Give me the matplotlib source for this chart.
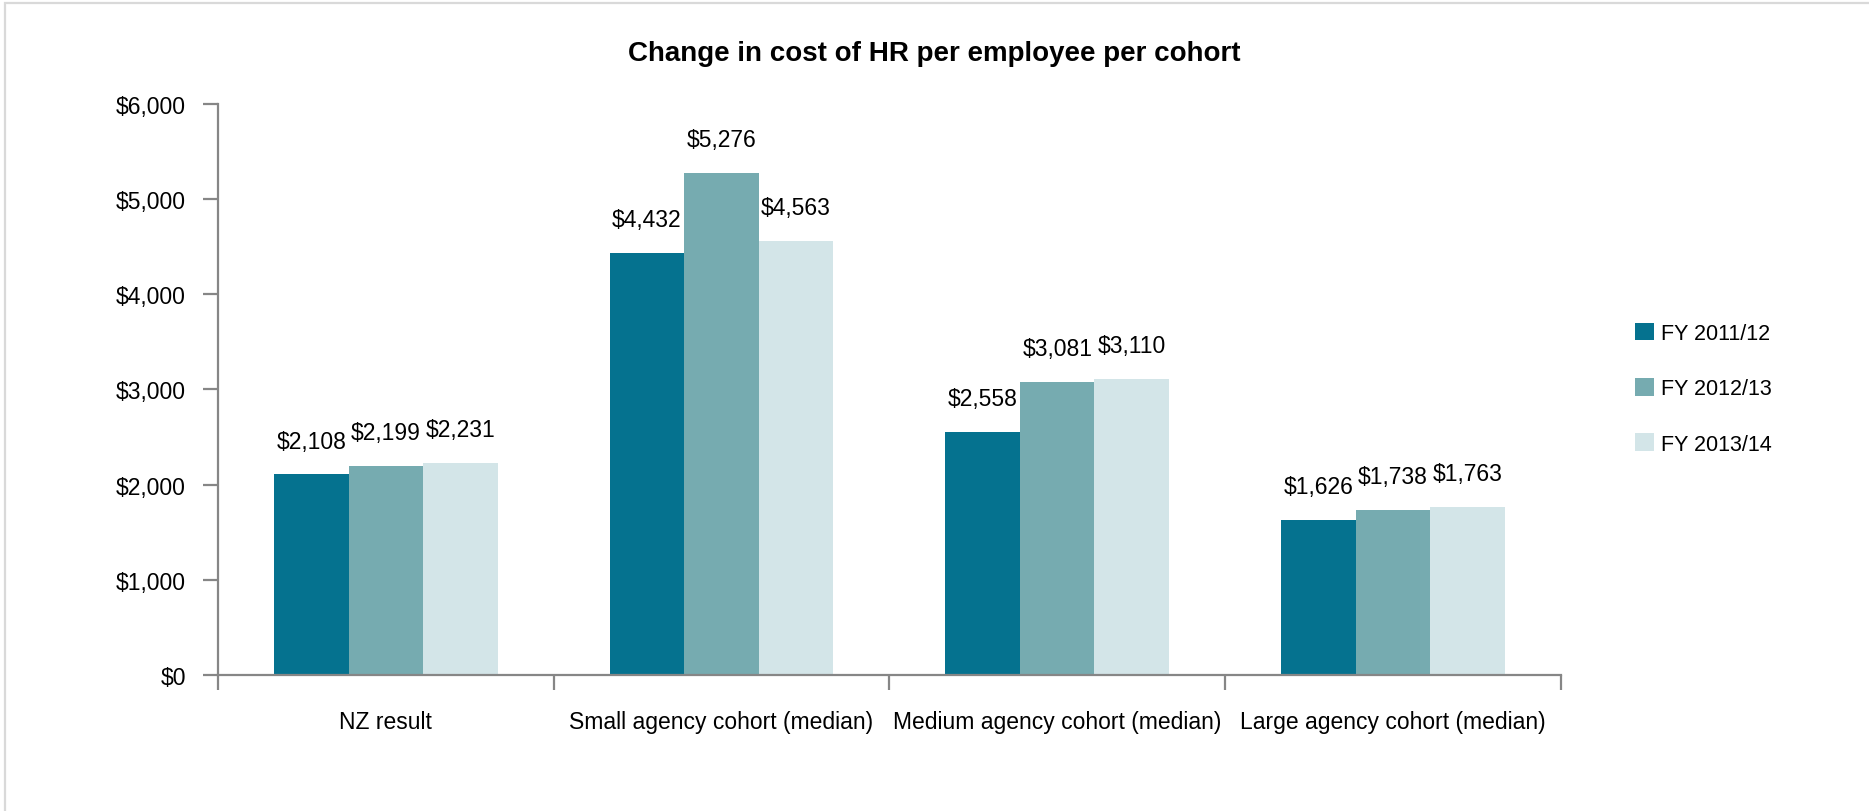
import numpy as np
import matplotlib.pyplot as plt
from matplotlib.patches import Rectangle
from matplotlib.ticker import FuncFormatter

plt.rcParams['font.family'] = ['Liberation Sans', 'DejaVu Sans']

# HR cost per employee by cohort and financial year
cohorts = ['NZ result', 'Small agency cohort (median)',
           'Medium agency cohort (median)', 'Large agency cohort (median)']
years = ['FY 2011/12', 'FY 2012/13', 'FY 2013/14']
fy1112 = [2108, 4432, 2558, 1626]
fy1213 = [2199, 5276, 3081, 1738]
fy1314 = [2231, 4563, 3110, 1763]
colors = ['#05728f', '#76abb0', '#d3e5e8']

fig = plt.figure(figsize=(18.69, 8.12), dpi=100)
ax = fig.add_axes([0.1166, 0.1675, 0.7185, 0.7032])

# light frame round the whole figure
fig.patches.append(Rectangle((5 / 1869, -0.1), 1.2, (812 - 4) / 812 + 0.1,
                             transform=fig.transFigure, fill=False,
                             edgecolor='#d9d9d9', linewidth=1.6))

x = np.arange(len(cohorts))
w = 0.222
for i, (vals, lab, c) in enumerate(zip([fy1112, fy1213, fy1314], years, colors)):
    pos = x + (i - 1) * w
    ax.bar(pos, vals, width=w, color=c, label=lab, zorder=2)
    for px, v in zip(pos, vals):
        ax.annotate(f'${v:,}', (px, v), xytext=(0, 24), textcoords='offset points',
                    ha='center', va='center', fontsize=16.5, color='black')

ax.set_xlim(-0.5, len(cohorts) - 0.5)
ax.set_ylim(0, 6000)
ax.set_yticks(np.arange(0, 6001, 1000))
ax.yaxis.set_major_formatter(FuncFormatter(lambda v, p: f'${v:,.0f}'))

# category labels at centres, tick marks at group boundaries
ax.set_xticks(x)
ax.set_xticklabels(cohorts)
ax.tick_params(axis='x', length=0, pad=25, labelsize=16.5)
ax.set_xticks(np.arange(-0.5, len(cohorts)), minor=True)
ax.tick_params(axis='x', which='minor', length=11, width=1.6, color='#868686')
ax.tick_params(axis='y', length=11, width=1.6, color='#868686', labelsize=16.5, pad=12)

for s in ['top', 'right']:
    ax.spines[s].set_visible(False)
for s in ['left', 'bottom']:
    ax.spines[s].set_color('#868686')
    ax.spines[s].set_linewidth(1.6)

fig.text(0.5, 0.933, 'Change in cost of HR per employee per cohort',
         ha='center', va='center', fontsize=20, fontweight='bold')

ax.legend(loc='center left', bbox_to_anchor=(1635 / 1869, 0.520),
          bbox_transform=fig.transFigure, frameon=False,
          fontsize=15.5, handlelength=0.88, handleheight=0.88, handletextpad=0.33,
          labelspacing=1.58, borderaxespad=0, borderpad=0)

fig.savefig('out.png', dpi=100)
